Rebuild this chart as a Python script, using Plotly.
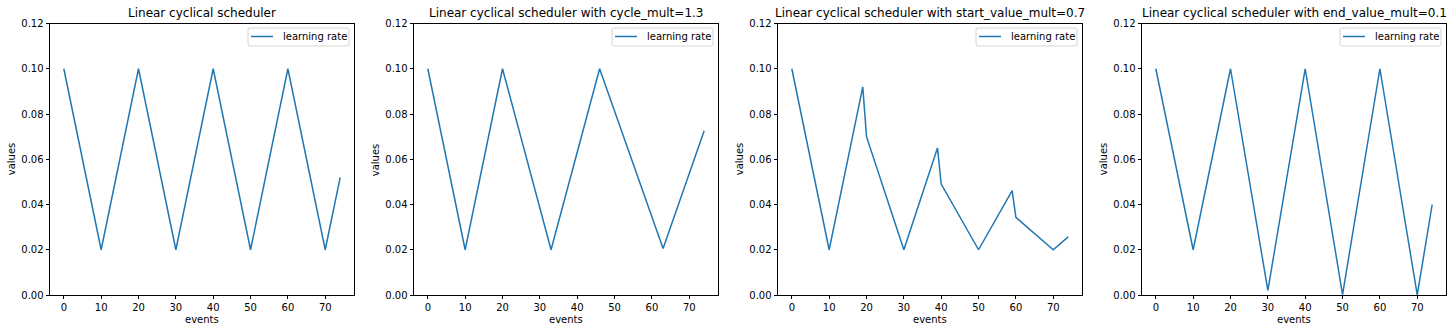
import plotly.graph_objects as go

W, H = 1456, 333

titles = [
    "Linear cyclical scheduler",
    "Linear cyclical scheduler with cycle_mult=1.3",
    "Linear cyclical scheduler with start_value_mult=0.7",
    "Linear cyclical scheduler with end_value_mult=0.1",
]

events_1 = [0, 10, 20, 30, 40, 50, 60, 70, 74]
values_1 = [0.1, 0.02, 0.1, 0.02, 0.1, 0.02, 0.1, 0.02, 0.052]

events_2 = [0, 10, 20, 33, 46, 62, 63, 74]
values_2 = [0.1, 0.02, 0.1, 0.02, 0.1, 0.0243, 0.0205, 0.0726]

events_3 = [0, 10, 19, 20, 30, 39, 40, 50, 59, 60, 70, 74]
values_3 = [0.1, 0.02, 0.092, 0.07, 0.02, 0.065, 0.049, 0.02, 0.0461, 0.0343, 0.02, 0.0257]

events_4 = [0, 10, 20, 30, 39, 40, 50, 60, 70, 74]
values_4 = [0.1, 0.02, 0.1, 0.002, 0.0902, 0.1, 0.0002, 0.1, 0.00002, 0.04]

series = [(events_1, values_1), (events_2, values_2), (events_3, values_3), (events_4, values_4)]

y_ticks = [0.0, 0.02, 0.04, 0.06, 0.08, 0.10, 0.12]
x_ticks = [0, 10, 20, 30, 40, 50, 60, 70]
legend_label = "learning rate"
x_label = "events"
y_label = "values"

# layout in pixels
axes_left = [50, 414, 778, 1142]
axes_w = 304
axes_top, axes_bottom = 23.5, 295

FONT = "DejaVu Sans"
BLUE = "#1f77b4"

def px(x):
    return x / W

def py(y):
    return 1 - y / H

fig = go.Figure()
shapes = []
annotations = []

for i, (xs, ys) in enumerate(series):
    n = "" if i == 0 else str(i + 1)
    xa, ya = "x" + n, "y" + n
    fig.add_trace(go.Scatter(x=xs, y=ys, mode="lines", line=dict(color=BLUE, width=1.5),
                             name=legend_label, showlegend=False, xaxis=xa, yaxis=ya))
    L = axes_left[i]
    R = L + axes_w
    common = dict(showline=True, linecolor="black", linewidth=0.8, mirror=True,
                  ticks="outside", ticklen=3.5, tickwidth=0.8, tickcolor="black",
                  showgrid=False, zeroline=False, automargin=False,
                  tickfont=dict(family=FONT, size=10, color="black"))
    fig.update_layout(**{
        "xaxis" + n: dict(domain=[px(L), px(R)], range=[-3.7, 77.7], tickvals=x_ticks,
                          anchor=ya, **common),
        "yaxis" + n: dict(domain=[py(axes_bottom), py(axes_top)], range=[0, 0.12],
                          tickvals=y_ticks, tickformat=".2f", anchor=xa, **common),
    })
    # title
    annotations.append(dict(text=titles[i], x=px((L + R) / 2), y=py(21.5), xref="paper", yref="paper",
                            xanchor="center", yanchor="bottom", showarrow=False,
                            font=dict(family=FONT, size=12, color="black")))
    # x label
    annotations.append(dict(text=x_label, x=px((L + R) / 2), y=py(319.5), xref="paper", yref="paper",
                            xanchor="center", yanchor="middle", showarrow=False,
                            font=dict(family=FONT, size=10, color="black")))
    # y label
    annotations.append(dict(text=y_label, x=px(L - 39), y=py((axes_top + axes_bottom) / 2),
                            xref="paper", yref="paper", textangle=-90,
                            xanchor="center", yanchor="middle", showarrow=False,
                            font=dict(family=FONT, size=10, color="black")))
    # legend box
    bl, br, bt, bb = R - 106, R - 5, 28, 46
    r = 2
    path = (f"M {px(bl + r)} {py(bt)} L {px(br - r)} {py(bt)} Q {px(br)} {py(bt)} {px(br)} {py(bt + r)} "
            f"L {px(br)} {py(bb - r)} Q {px(br)} {py(bb)} {px(br - r)} {py(bb)} "
            f"L {px(bl + r)} {py(bb)} Q {px(bl)} {py(bb)} {px(bl)} {py(bb - r)} "
            f"L {px(bl)} {py(bt + r)} Q {px(bl)} {py(bt)} {px(bl + r)} {py(bt)} Z")
    shapes.append(dict(type="path", path=path, xref="paper", yref="paper",
                       line=dict(color="#cccccc", width=0.8), fillcolor="rgba(255,255,255,0.8)"))
    shapes.append(dict(type="line", xref="paper", yref="paper", x0=px(bl + 3), x1=px(bl + 25),
                       y0=py(36.5), y1=py(36.5), line=dict(color=BLUE, width=1.5)))
    annotations.append(dict(text=legend_label, x=px(bl + 33), y=py(36.5), xref="paper", yref="paper",
                            xanchor="left", yanchor="middle", showarrow=False,
                            font=dict(family=FONT, size=10, color="black")))

fig.update_layout(width=W, height=H, margin=dict(l=0, r=0, t=0, b=0),
                  paper_bgcolor="white", plot_bgcolor="white",
                  shapes=shapes, annotations=annotations, showlegend=False,
                  font=dict(family=FONT, size=10, color="black"))

fig.write_html("out.html")
